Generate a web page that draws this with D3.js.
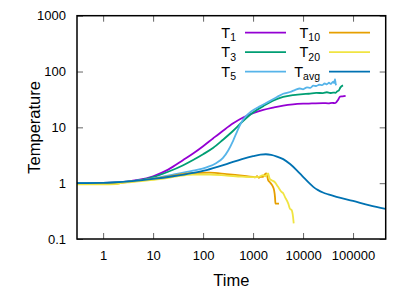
<!DOCTYPE html>
<html>
<head>
<meta charset="utf-8">
<script src="https://cdn.jsdelivr.net/npm/d3@7"></script>
<style>
  body { margin: 0; background: #fff; }
  text { font-family: "Liberation Sans", Arial, sans-serif; }
</style>
</head>
<body>
<svg></svg>
<script>
// [time, temperature] pairs
var seriesT1 = [[0.3,1.0],[1,1.01],[2,1.04],[3,1.07],[5,1.14],[10,1.33],[20,1.75],[40,2.6],[63,3.4],[100,4.6],
  [160,6.4],[250,8.7],[400,11.8],[630,15],[1000,18],[1600,20.5],[2500,22.5],[4000,24.5],[6300,25.8],[10000,26.5],
  [15000,26.8],[25000,27.2],[32000,26.9],[38000,27.5],[43000,27.1],[46000,28],[50000,31],[55000,35.5],[62000,36],[71000,36.7]];

var seriesT3 = [[0.3,1.0],[1,1.01],[3,1.06],[10,1.28],[20,1.6],[40,2.1],[63,2.6],[100,3.3],[160,4.3],[250,6.0],
  [400,8.7],[630,13],[1000,18.5],[1600,24],[2500,30],[4000,35],[6300,37.8],[10000,39.5],[13000,40],[18400,41.5],
  [25000,41],[30000,42.5],[35000,41.2],[40000,42],[45000,41.5],[48000,44],[52000,46],[56000,52],[63000,56.3]];

var seriesT5 = [[0.3,1.0],[1,1.01],[3,1.06],[10,1.22],[25,1.42],[63,1.68],[117,1.92],[185,2.3],[250,2.85],[320,3.9],
  [400,5.8],[480,8.5],[560,11.5],[700,15.5],[900,19],[1400,24],[2150,29.5],[3000,35],[4000,40],[5500,43],[7000,47],
  [8600,49.7],[10000,48],[12000,52],[14000,51],[16000,56],[18400,55],[21000,58],[24000,57],[27000,61],[30000,59],
  [33000,63],[36000,60],[40000,66],[42000,62],[43500,73],[45000,60],[46500,57]];

var seriesT10 = [[0.3,0.96],[1,0.97],[1.8,0.97],[2.2,1.0],[3,1.05],[5,1.1],[13.6,1.24],[30,1.4],[63,1.52],[136,1.54],
  [295,1.45],[600,1.36],[800,1.32],[1000,1.3],[1100,1.27],[1200,1.33],[1300,1.25],[1400,1.3],[1585,1.3],[1700,1.42],
  [1850,1.49],[1950,1.25],[2000,1.13],[2150,1.05],[2350,0.95],[2500,0.86],[2630,0.75],[2750,0.55],[2800,0.43],[3300,0.43]];

var seriesT20 = [[0.3,0.95],[1,0.95],[1.8,0.96],[2.2,1.0],[3,1.03],[5,1.08],[13.6,1.18],[30,1.32],[63,1.42],[136,1.43],
  [295,1.37],[600,1.31],[1000,1.28],[1300,1.3],[1585,1.39],[1750,1.33],[2000,1.49],[2150,1.2],[2340,1.13],[2700,1.05],
  [3160,0.86],[3700,0.7],[4000,0.66],[4330,0.57],[5060,0.43],[5450,0.35],[5900,0.33],[6300,0.25],[6500,0.19]];

var seriesAvg = [[0.3,1.0],[1,1.01],[3,1.07],[10,1.19],[25,1.33],[63,1.53],[117,1.72],[295,2.2],[600,2.7],[1000,3.05],
  [1400,3.25],[1800,3.3],[2300,3.22],[3000,3.0],[4000,2.7],[5500,2.2],[7500,1.7],[10000,1.3],[13000,1.02],[16000,0.86],
  [20000,0.75],[25000,0.68],[32000,0.63],[46500,0.57],[100000,0.48],[215000,0.40],[450000,0.345]];

var seriesNames = ["1", "3", "5", "10", "20", "avg"];
var xTicks = [1, 10, 100, 1000, 10000, 100000];
var yTicks = [0.1, 1, 10, 100, 1000];

var colors = ["#9400d3", "#009e73", "#56b4e9", "#e69f00", "#f0e442", "#0072b2"];
var allSeries = [seriesT1, seriesT3, seriesT5, seriesT10, seriesT20, seriesAvg];

var width = 415;
var height = 291;
// plot box edges (window.top is taken, hence the names)
var boxLeft = 77, boxRight = 385.7, boxTop = 15.7, boxBottom = 239;

var svg = d3.select("svg")
            .attr("width", width)
            .attr("height", height);

var xScale = d3.scaleLog()
               .domain([0.3, 450000])
               .range([boxLeft, boxRight]);

var yScale = d3.scaleLog()
               .domain([0.1, 1000])
               .range([boxBottom, boxTop]);

// ticks point inward, mirrored on the top and right edge
function styleAxis(g) {
  g.select(".domain").remove();
  g.selectAll(".tick line").attr("stroke", "#666").attr("stroke-width", 1);
  g.selectAll(".tick text").attr("fill", "#000").style("font-size", "13px")
   .style("font-family", "'Liberation Sans', Arial, sans-serif");
}

svg.append("g")
   .attr("transform", "translate(0," + boxBottom + ")")
   .call(d3.axisBottom(xScale).tickValues(xTicks).tickFormat(d3.format("d")).tickSizeInner(-6).tickPadding(12))
   .call(styleAxis);

svg.append("g")
   .attr("transform", "translate(0," + boxTop + ")")
   .call(d3.axisTop(xScale).tickValues(xTicks).tickFormat("").tickSizeInner(-6))
   .call(styleAxis);

svg.append("g")
   .attr("transform", "translate(" + boxLeft + ",0)")
   .call(d3.axisLeft(yScale).tickValues(yTicks).tickFormat(function(d) { return String(d); }).tickSizeInner(-6).tickPadding(11))
   .call(styleAxis);

svg.append("g")
   .attr("transform", "translate(" + boxRight + ",0)")
   .call(d3.axisRight(yScale).tickValues(yTicks).tickFormat("").tickSizeInner(-6))
   .call(styleAxis);

var line = d3.line()
             .x(function(d) { return xScale(d[0]); })
             .y(function(d) { return yScale(d[1]); })
             .curve(d3.curveMonotoneX);

svg.append("g")
   .selectAll("path")
   .data(allSeries)
   .enter()
   .append("path")
   .attr("d", line)
   .attr("fill", "none")
   .attr("stroke", function(d, i) { return colors[i]; })
   .attr("stroke-width", 1.8)
   .attr("stroke-linejoin", "round");

// frame
svg.append("rect")
   .attr("x", boxLeft).attr("y", boxTop)
   .attr("width", boxRight - boxLeft).attr("height", boxBottom - boxTop)
   .attr("fill", "none").attr("stroke", "#000").attr("stroke-width", 1.5);

// key, two columns of three
var key = svg.append("g")
             .selectAll("g")
             .data(seriesNames)
             .enter()
             .append("g")
             .attr("transform", function(d, i) {
               var col = Math.floor(i / 3), row = i % 3;
               return "translate(" + (col * 84) + "," + (32.7 + row * 19.5) + ")";
             });

var keyText = key.append("text")
   .attr("x", 236)
   .attr("y", 5)
   .attr("text-anchor", "end")
   .style("font-size", "14.5px");
keyText.append("tspan").text("T");
keyText.append("tspan").attr("dy", 3.5).style("font-size", "10.5px").text(function(d) { return d; });

key.append("line")
   .attr("x1", 245).attr("x2", 286)
   .attr("stroke", function(d, i) { return colors[i]; })
   .attr("stroke-width", 1.8);

// axis titles
svg.append("text")
   .attr("x", (boxLeft + boxRight) / 2)
   .attr("y", 286)
   .attr("text-anchor", "middle")
   .style("font-size", "16.5px")
   .text("Time");

svg.append("text")
   .attr("transform", "translate(40," + ((boxTop + boxBottom) / 2) + ") rotate(-90)")
   .attr("text-anchor", "middle")
   .style("font-size", "16.5px")
   .text("Temperature");
</script>
</body>
</html>
